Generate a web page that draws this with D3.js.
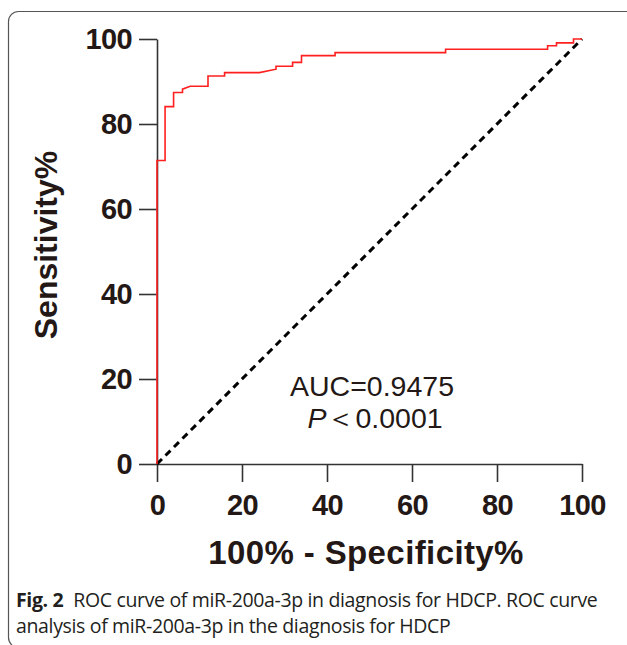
<!DOCTYPE html>
<html>
<head>
<meta charset="utf-8">
<script src="https://cdn.jsdelivr.net/npm/d3@7"></script>
<style>
  body { margin: 0; background: #fff; }
  svg { display: block; }
</style>
</head>
<body>
<div id="chart"></div>
<script>
// ROC curve points (100% - specificity, sensitivity)
const fpr = [0, 0, 1.9, 1.9, 3.9, 3.9, 6.0, 6.0, 7.8, 12.0, 12.0, 15.9, 15.9, 24.1, 28.0, 28.0,
             31.9, 31.9, 34.0, 34.0, 41.9, 41.9, 67.9, 67.9, 91.9, 91.9, 94.0, 94.0, 98.0, 98.0, 100];
const tpr = [0, 71.4, 71.4, 84.1, 84.1, 87.4, 87.4, 88.2, 88.9, 88.9, 91.3, 91.3, 92.1, 92.1, 92.9, 93.6,
             93.6, 94.5, 94.5, 96.1, 96.1, 96.8, 96.8, 97.6, 97.6, 98.4, 98.4, 99.1, 99.1, 100, 100];
const refLine = [0, 100];
const ticks = [0, 20, 40, 60, 80, 100];

const width = 627;
const height = 645;
const ink = "#231815";

const svg = d3.select("#chart")
    .append("svg")
    .attr("width", width)
    .attr("height", height);

// figure frame
svg.append("rect")
    .attr("x", 8.5)
    .attr("y", 11.5)
    .attr("width", 700)
    .attr("height", 636)
    .attr("rx", 10)
    .attr("fill", "none")
    .attr("stroke", "#555")
    .attr("stroke-width", 1.2);

const x = d3.scaleLinear().domain([0, 100]).range([157, 582]);
const y = d3.scaleLinear().domain([0, 100]).range([464, 39]);

const xAxis = svg.append("g")
    .attr("transform", `translate(0,${y(0)})`)
    .call(d3.axisBottom(x).tickValues(ticks).tickSize(18).tickSizeOuter(0).tickPadding(12));

const yAxis = svg.append("g")
    .attr("transform", `translate(${x(0)},0)`)
    .call(d3.axisLeft(y).tickValues(ticks).tickSize(18).tickSizeOuter(0).tickPadding(7));

[xAxis, yAxis].forEach(g => {
    g.selectAll("path, line").attr("stroke", "#333").attr("stroke-width", 1.6);
    g.selectAll("text")
        .attr("fill", ink)
        .style("font-family", "'Liberation Sans', Arial, sans-serif")
        .style("font-weight", "bold")
        .style("font-size", "29px")
        .style("letter-spacing", "-0.6px");
});

// chance line
svg.append("path")
    .datum(refLine)
    .attr("d", d3.line().x(d => x(d)).y(d => y(d)))
    .attr("fill", "none")
    .attr("stroke", "#000")
    .attr("stroke-width", 3)
    .attr("stroke-dasharray", "7,5");

// ROC curve
svg.append("path")
    .datum(d3.zip(fpr, tpr))
    .attr("d", d3.line().x(d => x(d[0])).y(d => y(d[1])))
    .attr("fill", "none")
    .attr("stroke", "#ff1f1f")
    .attr("stroke-width", 1.6);

// axis titles
svg.append("text")
    .attr("x", 366)
    .attr("y", 564)
    .attr("text-anchor", "middle")
    .attr("fill", ink)
    .style("font-family", "'Liberation Sans', Arial, sans-serif")
    .style("font-weight", "bold")
    .style("font-size", "33px")
    .style("letter-spacing", "0.4px")
    .text("100% - Specificity%");

svg.append("text")
    .attr("transform", "translate(57,245) rotate(-90)")
    .attr("text-anchor", "middle")
    .attr("fill", ink)
    .style("font-family", "'Liberation Sans', Arial, sans-serif")
    .style("font-weight", "bold")
    .style("font-size", "32px")
    .text("Sensitivity%");

// AUC annotation
const note = svg.append("g")
    .attr("fill", ink)
    .style("font-family", "'Liberation Sans', Arial, sans-serif")
    .style("font-size", "28.5px");

note.append("text")
    .attr("x", 372)
    .attr("y", 396)
    .attr("text-anchor", "middle")
    .text("AUC=0.9475");

const pLine = note.append("text")
    .attr("x", 375)
    .attr("y", 428)
    .attr("text-anchor", "middle");
pLine.append("tspan").style("font-style", "italic").text("P");
pLine.append("tspan").text("＜0.0001");

// caption
const cap = svg.append("g")
    .attr("fill", "#231f20")
    .style("font-family", "'Open Sans', sans-serif")
    .style("font-size", "19.5px")
    .style("letter-spacing", "-0.35px");

const line1 = cap.append("text").attr("x", 16).attr("y", 607);
line1.append("tspan").style("font-weight", "bold").text("Fig. 2");
line1.append("tspan").attr("dx", 10).text("ROC curve of miR-200a-3p in diagnosis for HDCP. ROC curve");

cap.append("text")
    .attr("x", 16)
    .attr("y", 633)
    .text("analysis of miR-200a-3p in the diagnosis for HDCP");
</script>
</body>
</html>
